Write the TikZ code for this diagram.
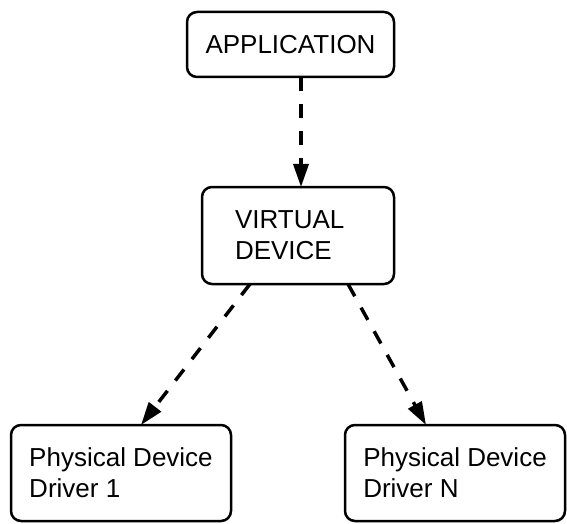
\documentclass[tikz,border=0pt]{standalone}
\usepackage{fontspec}
\setmainfont{Liberation Sans}
\usetikzlibrary{arrows.meta}
\begin{document}
\begin{tikzpicture}[x=1pt,y=1pt,
  box/.style={draw=black, line width=2.5pt, rounded corners=10pt,
    inner sep=0pt, outer sep=0pt, align=left,
    font=\fontsize{26}{31}\selectfont},
  flow/.style={line width=3.5pt, dash pattern=on 14pt off 13pt,
    -{Triangle[length=23pt,width=15pt]}}]
  \useasboundingbox (0,0) rectangle (567,523);

  % layers of the driver stack
  \node[box, minimum width=207pt, minimum height=65pt] (app) at (290.5,478.5) {APPLICATION};
  \node[box, minimum width=192pt, minimum height=97pt, text width=126pt] (vd) at (298,287.5) {VIRTUAL\\DEVICE};
  \node[box, minimum width=220pt, minimum height=96pt] (pd1) at (121,50) {Physical Device\\Driver 1};
  \node[box, minimum width=220pt, minimum height=96pt] (pdn) at (455,50) {Physical Device\\Driver N};

  % calls passed down the stack
  \draw[flow] ([xshift=10.5pt]app.south) -- ([xshift=10.5pt]app.south |- vd.north);
  \draw[flow] ([xshift=-48pt]vd.south) -- ([xshift=20pt]pd1.north);
  \draw[flow] ([xshift=50pt]vd.south) -- ([xshift=-29pt]pdn.north);
\end{tikzpicture}
\end{document}
